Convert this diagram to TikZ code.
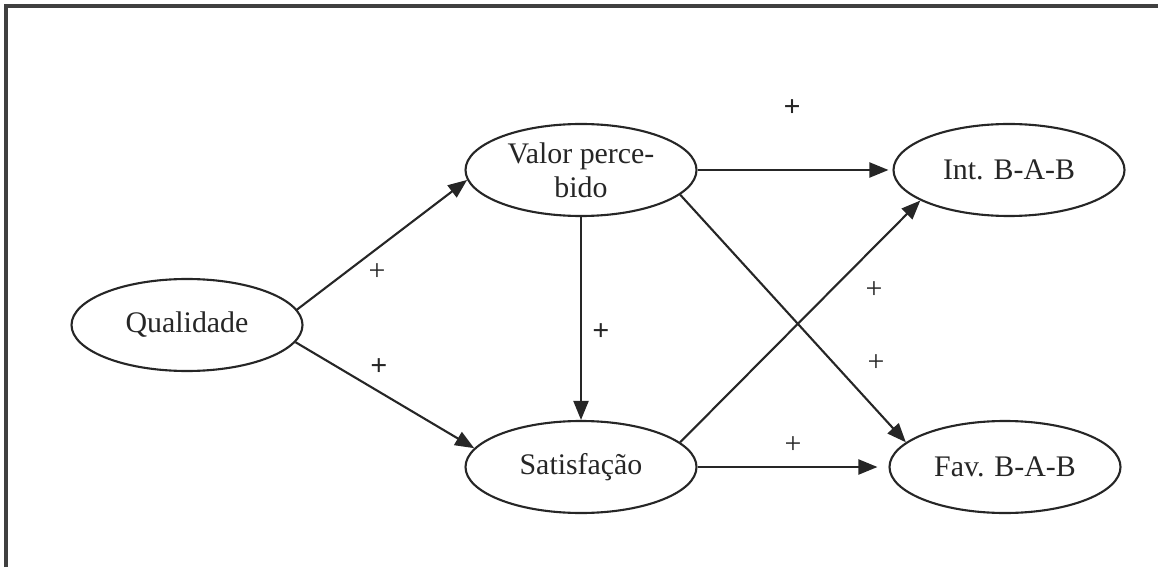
\documentclass[tikz,border=0pt]{standalone}
\usepackage{fontspec}
\setmainfont{Liberation Serif}
\usepackage{xcolor}
\usepackage{tikz}
\usetikzlibrary{arrows.meta,shapes}
\tikzstyle{construct}=[ellipse,draw=black!85,line width=1.2pt,minimum width=4.62cm,minimum height=1.84cm,inner sep=0pt,align=center,text=black!85]
\tikzstyle{link}=[draw=black!85,line width=1.2pt,-{Triangle[length=0.38cm,width=0.3cm]}]
\tikzstyle{sign}=[inner sep=0pt,text=black!85]

\begin{document}
\begin{tikzpicture}[font=\fontsize{17}{19.5}\selectfont]
        \useasboundingbox (0,0) rectangle (23.16,11.34);
        \draw [black!75,line width=2.6pt] (0.12,0) -- (0.12,11.22) -- (23.16,11.22);
        \node at ( 3.74, 4.84) [construct] (Q) {Qualidade};
        \node at (11.62, 7.94) [construct] (V) {Valor perce-\\bido};
        \node at (11.62, 2.00) [construct] (S) {Satisfação};
        \node at (20.18, 7.94) [construct] (I) {Int. B-A-B};
        \node at (20.10, 2.00) [construct] (F) {Fav. B-A-B};
        \draw [link] (Q.8) to (V.185);
        \draw [link] (Q.-9) to (S.170);
        \draw [link] (V.south) to (S.north);
        \draw [link,shorten >=0.08cm] (V.east) to (I.west);
        \draw [link] (V.-14) to (F.166);
        \draw [link] (S.14) to (I.199);
        \draw [link,shorten >=0.22cm] (S.east) to (F.west);
        % signs
        \node at (15.84, 9.18) [sign] (s1) {\textbf{+}};
        \node at ( 7.54, 5.90) [sign] (s2) {+};
        \node at ( 7.58, 4.00) [sign] (s3) {\textbf{+}};
        \node at (12.02, 4.70) [sign] (s4) {\textbf{+}};
        \node at (17.48, 5.54) [sign] (s5) {+};
        \node at (17.52, 4.08) [sign] (s6) {+};
        \node at (15.86, 2.44) [sign] (s7) {+};
      \end{tikzpicture}
\end{document}
